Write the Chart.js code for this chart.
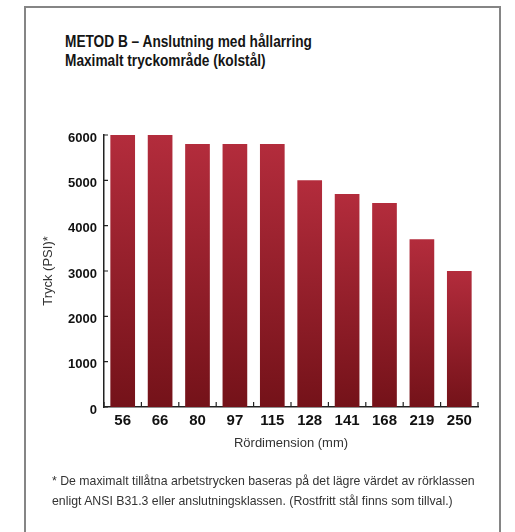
<!DOCTYPE html>
<html>
<head>
<meta charset="utf-8">
<script src="https://cdn.jsdelivr.net/npm/chart.js@4/dist/chart.umd.min.js"></script>
<style>
  body { margin: 0; background: #fff; }
  #frame { position: absolute; left: 24px; top: 6px; width: 473px; height: 540px; border: 2px solid #858585; border-bottom: none; }
  #title { position: absolute; left: 65px; top: 32px; font: bold 16px "Liberation Sans", Arial, sans-serif; line-height: 19px; color: #151515; white-space: nowrap; transform-origin: 0 0; }
  #note { position: absolute; left: 52px; top: 471px; font: 13px "Liberation Sans", Arial, sans-serif; line-height: 19.5px; color: #333; white-space: nowrap; transform-origin: 0 0; }
  canvas { position: absolute; left: 0; top: 0; }
</style>
</head>
<body>
<div id="frame"></div>
<div id="title">METOD B – Anslutning med hållarring<br>Maximalt tryckområde (kolstål)</div>
<div style="position:absolute;left:0;top:0;width:515px;height:532px"><canvas id="myChart"></canvas></div>
<div id="note">* De maximalt tillåtna arbetstrycken baseras på det lägre värdet av rörklassen<br>enligt ANSI B31.3 eller anslutningsklassen. (Rostfritt stål finns som tillval.)</div>
<script>
// rördimensioner och tryck (PSI)
var dims = ["56", "66", "80", "97", "115", "128", "141", "168", "219", "250"];
var tryck = [6000, 6000, 5800, 5800, 5800, 5000, 4700, 4500, 3700, 3000];
var yTicks = [0, 1000, 2000, 3000, 4000, 5000, 6000];

var sans = '"Liberation Sans", Arial, sans-serif';

// smalare text, som i originalet (condensed)
function squeeze(id, w) {
    var el = document.getElementById(id);
    el.style.transform = 'scaleX(' + (w / el.offsetWidth) + ')';
}
squeeze('title', 247);
squeeze('note', 423);

// gradient per stapel, ljus topp -> mörk botten
function barFill(ctx) {
    var chart = ctx.chart;
    var area = chart.chartArea;
    if (!area || ctx.type !== 'data') return '#96202c';
    var y = chart.scales.y;
    var top = y.getPixelForValue(ctx.raw);
    var g = chart.ctx.createLinearGradient(0, top, 0, area.bottom);
    g.addColorStop(0, '#b32c3c');
    g.addColorStop(1, '#741219');
    return g;
}

// små tickmarkeringar inåt
const innerTicks = {
    id: 'innerTicks',
    afterDraw(chart) {
        var c = chart.ctx, a = chart.chartArea;
        var x = chart.scales.x, y = chart.scales.y;
        c.save();
        c.strokeStyle = '#222';
        c.lineWidth = 1.2;
        c.beginPath();
        yTicks.forEach(function (v) {
            var py = y.getPixelForValue(v);
            c.moveTo(a.left, py);
            c.lineTo(a.left + 4, py);
        });
        var half = (x.getPixelForValue(1) - x.getPixelForValue(0)) / 2;
        for (var i = 0; i <= dims.length; i++) {
            var px = x.getPixelForValue(i) - half;
            c.moveTo(px, a.bottom);
            c.lineTo(px, a.bottom - 5);
        }
        c.stroke();
        c.restore();
    }
};

new Chart("myChart", {
    type: "bar",
    data: {
        labels: dims,
        datasets: [{
            data: tryck,
            backgroundColor: barFill,
            borderWidth: 0,
            categoryPercentage: 1,
            barPercentage: 0.66
        }]
    },
    options: {
        responsive: true,
        maintainAspectRatio: false,
        animation: false,
        layout: { padding: { left: 35, right: 37, top: 135, bottom: 75 } },
        plugins: { legend: { display: false }, tooltip: { enabled: false } },
        scales: {
            x: {
                grid: { display: false, drawTicks: false },
                border: { display: true, color: '#222', width: 1.5 },
                ticks: { color: '#111', padding: 5, font: { family: sans, size: 15, weight: 'bold' } },
                title: { display: true, text: 'Rördimension (mm)', color: '#333', padding: { top: 0, bottom: 6 },
                    font: { family: sans, size: 13 } },
                afterFit: function (s) { s.height = 50; }
            },
            y: {
                min: 0, max: 6000,
                afterBuildTicks: function (s) { s.ticks = yTicks.map(function (v) { return { value: v }; }); },
                grid: { display: false, drawTicks: false },
                border: { display: true, color: '#222', width: 1.5 },
                ticks: { color: '#111', padding: 7, labelOffset: 3, callback: function (v) { return String(v); },
                    font: { family: sans, size: 13, weight: 'bold' } },
                title: { display: true, text: 'Tryck (PSI)*', color: '#333', padding: { top: 6, bottom: 2 },
                    font: { family: sans, size: 13 } },
                afterFit: function (s) { s.width = 69; }
            }
        }
    },
    plugins: [innerTicks]
});
</script>
</body>
</html>
